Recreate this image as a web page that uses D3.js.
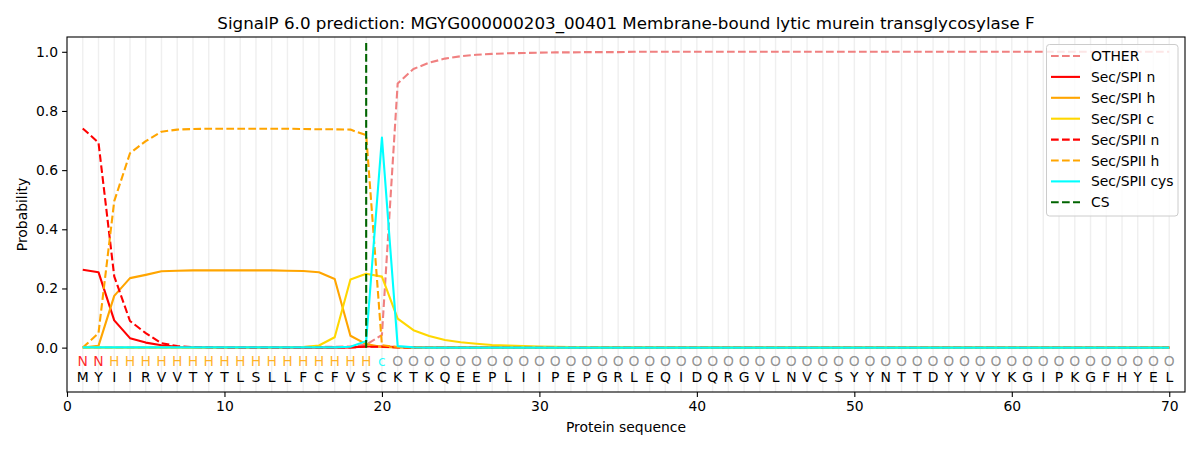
<!DOCTYPE html>
<html>
<head>
<meta charset="utf-8">
<script src="https://cdn.jsdelivr.net/npm/d3@7"></script>
<style>
  html, body { margin: 0; padding: 0; background: #fff; }
  svg { display: block; font-family: "DejaVu Sans", sans-serif; }
</style>
</head>
<body>
<svg id="chart" width="1200" height="450"></svg>
<script>
const titleText = "SignalP 6.0 prediction: MGYG000000203_00401 Membrane-bound lytic murein transglycosylase F";
const sequence = "MYIIRVVTYTLSLLFCFVSCKTKQEEPLIIPEPGRLEQIDQRGVLNVCSYYNTTDYYVYKGIPKGFHYEL".split("");
const annotation = ("NN" + "H".repeat(17) + "c" + "O".repeat(50)).split("");
const positions = d3.range(1, 71);
const xTicks = [0, 10, 20, 30, 40, 50, 60, 70];
const yTicks = [0.0, 0.2, 0.4, 0.6, 0.8, 1.0];
const csPosition = 19;

const otherVals = [0,0,0,0,0,0,0,0,0,0.001, 0.001,0.001,0.002,0.002,0.002,0.003,0.003,0.004,0.01,0.043,
  0.893,0.942,0.963,0.977,0.985,0.99,0.993,0.995,0.996,0.997, 0.998,0.998,0.999,0.999,0.999,1,1,1,1,1,
  1,1,1,1,1,1,1,1,1,1, 1,1,1,1,1,1,1,1,1,1, 1,1,1,1,1,1,1,1,1,1];
const spiN = [0.263,0.255,0.092,0.032,0.017,0.008,0.003,0.001,0.001,0, 0,0,0,0,0,0,0,0.001,0.004,0.004,
  0.002,0.001,0,0,0,0,0,0,0,0, 0,0,0,0,0,0,0,0,0,0, 0,0,0,0,0,0,0,0,0,0, 0,0,0,0,0,0,0,0,0,0, 0,0,0,0,0,0,0,0,0,0];
const spiH = [0,0.006,0.175,0.235,0.246,0.258,0.26,0.261,0.261,0.261, 0.261,0.261,0.261,0.26,0.259,0.255,0.232,0.04,0.012,0.002,
  0.001,0,0,0,0,0,0,0,0,0, 0,0,0,0,0,0,0,0,0,0, 0,0,0,0,0,0,0,0,0,0, 0,0,0,0,0,0,0,0,0,0, 0,0,0,0,0,0,0,0,0,0];
const spiC = [0,0,0,0,0,0,0,0,0,0, 0,0,0,0.001,0.002,0.007,0.035,0.23,0.25,0.24,
  0.098,0.059,0.039,0.026,0.018,0.013,0.009,0.007,0.005,0.004, 0.003,0.002,0.002,0.001,0.001,0.001,0.001,0,0,0,
  0,0,0,0,0,0,0,0,0,0, 0,0,0,0,0,0,0,0,0,0, 0,0,0,0,0,0,0,0,0,0];
const spiiN = [0.741,0.693,0.241,0.09,0.049,0.015,0.005,0.002,0.001,0, 0,0,0,0,0,0,0,0.001,0.003,0.003,
  0.001,0,0,0,0,0,0,0,0,0, 0,0,0,0,0,0,0,0,0,0, 0,0,0,0,0,0,0,0,0,0, 0,0,0,0,0,0,0,0,0,0, 0,0,0,0,0,0,0,0,0,0];
const spiiH = [0,0.049,0.495,0.657,0.698,0.73,0.737,0.739,0.74,0.74, 0.74,0.74,0.74,0.74,0.739,0.738,0.738,0.737,0.718,0.008,
  0.002,0.001,0,0,0,0,0,0,0,0, 0,0,0,0,0,0,0,0,0,0, 0,0,0,0,0,0,0,0,0,0, 0,0,0,0,0,0,0,0,0,0, 0,0,0,0,0,0,0,0,0,0];
const spiiCys = [0.001,0.001,0.001,0.001,0.001,0.001,0.001,0.001,0.001,0.001, 0.001,0.001,0.001,0.001,0.001,0.001,0.001,0.003,0.022,0.71,
  0.005,0.001,0,0,0,0,0,0,0,0, 0,0,0,0,0,0,0,0,0,0, 0,0,0,0,0,0,0,0,0,0, 0,0,0,0,0,0,0,0,0,0, 0,0,0,0,0,0,0,0,0,0];

const seriesList = [
  { name: "OTHER", values: otherVals, color: "#f08080", dash: true },
  { name: "Sec/SPI n", values: spiN, color: "#ff0000", dash: false },
  { name: "Sec/SPI h", values: spiH, color: "#ffa500", dash: false },
  { name: "Sec/SPI c", values: spiC, color: "#ffd700", dash: false },
  { name: "Sec/SPII n", values: spiiN, color: "#ff0000", dash: true },
  { name: "Sec/SPII h", values: spiiH, color: "#ffa500", dash: true },
  { name: "Sec/SPII cys", values: spiiCys, color: "#00ffff", dash: false }
];
const annColors = { N: "#ff0000", H: "#ffa500", c: "#00ffff", O: "#808080" };

const svg = d3.select("#chart");
const L = 67, R = 1185, T = 37, B = 392;
const x = d3.scaleLinear().domain([0, 71]).range([L, R]);
const y = d3.scaleLinear().domain([-0.15, 1.05]).range([B, T]);
const dashArr = "7.7,3.3";

// grid
svg.append("g").selectAll("line").data(positions).join("line")
  .attr("x1", d => x(d)).attr("x2", d => x(d))
  .attr("y1", T).attr("y2", B)
  .attr("stroke", "#b0b0b0").attr("stroke-opacity", 0.2).attr("stroke-width", 1.4);

// lines
const line = d3.line().x((d, i) => x(positions[i])).y(d => y(d));
const plot = svg.append("g");
seriesList.forEach(s => {
  plot.append("path").datum(s.values)
    .attr("d", line)
    .attr("fill", "none")
    .attr("stroke", s.color)
    .attr("stroke-width", 2.1)
    .attr("stroke-linejoin", "round")
    .attr("stroke-dasharray", s.dash ? dashArr : null);
});
// CS
plot.append("line")
  .attr("x1", x(csPosition)).attr("x2", x(csPosition))
  .attr("y1", y(0)).attr("y2", y(1.04))
  .attr("stroke", "#006400").attr("stroke-width", 2.1).attr("stroke-dasharray", dashArr);

// annotation letters
svg.append("g").selectAll("text").data(annotation).join("text")
  .attr("x", (d, i) => x(positions[i])).attr("y", 366)
  .attr("text-anchor", "middle")
  .attr("font-size", "13.9px").attr("fill", d => annColors[d]).attr("fill-opacity", 0.85)
  .text(d => d);
svg.append("g").selectAll("text").data(sequence).join("text")
  .attr("x", (d, i) => x(positions[i])).attr("y", 381.5)
  .attr("text-anchor", "middle")
  .attr("font-size", "13.9px").attr("fill", "#000")
  .text(d => d);

// axes
const xAxis = d3.axisBottom(x).tickValues(xTicks).tickFormat(d3.format("d")).tickSizeOuter(0).tickSize(4.9).tickPadding(4);
const yAxis = d3.axisLeft(y).tickValues(yTicks).tickFormat(d3.format(".1f")).tickSizeOuter(0).tickSize(4.9).tickPadding(4);
const gx = svg.append("g").attr("transform", `translate(0,${B})`).call(xAxis);
const gy = svg.append("g").attr("transform", `translate(${L},0)`).call(yAxis);
[gx, gy].forEach(g => {
  g.select(".domain").remove();
  g.selectAll("text").attr("font-size", "13.9px").attr("font-family", "DejaVu Sans, sans-serif").attr("fill", "#000");
  g.selectAll("line").attr("stroke", "#000").attr("stroke-width", 1.1);
});
svg.append("rect").attr("x", L).attr("y", T).attr("width", R - L).attr("height", B - T)
  .attr("fill", "none").attr("stroke", "#000").attr("stroke-width", 1.1);

// labels
svg.append("text").attr("x", (L + R) / 2).attr("y", 29).attr("text-anchor", "middle")
  .attr("font-size", "16.7px").attr("fill", "#000").text(titleText);
svg.append("text").attr("x", (L + R) / 2).attr("y", 432).attr("text-anchor", "middle")
  .attr("font-size", "13.9px").attr("fill", "#000").text("Protein sequence");
svg.append("text").attr("transform", `translate(27,${(T + B) / 2}) rotate(-90)`).attr("text-anchor", "middle")
  .attr("font-size", "13.9px").attr("fill", "#000").text("Probability");

// legend
const legendItems = seriesList.map(s => ({ name: s.name, color: s.color, dash: s.dash }))
  .concat([{ name: "CS", color: "#006400", dash: true }]);
const lg = svg.append("g");
lg.append("rect").attr("x", 1046.5).attr("y", 44.5).attr("width", 131.5).attr("height", 171.5)
  .attr("rx", 3).attr("fill", "#fff").attr("fill-opacity", 0.8)
  .attr("stroke", "#cccccc").attr("stroke-width", 1);
legendItems.forEach((it, i) => {
  const yy = 56 + i * 20.9;
  lg.append("line").attr("x1", 1051).attr("x2", 1080).attr("y1", yy).attr("y2", yy)
    .attr("stroke", it.color).attr("stroke-width", 2.1).attr("stroke-dasharray", it.dash ? dashArr : null);
  lg.append("text").attr("x", 1091).attr("y", yy).attr("dominant-baseline", "central")
    .attr("font-size", "13.9px").attr("fill", "#000").text(it.name);
});
</script>
</body>
</html>
